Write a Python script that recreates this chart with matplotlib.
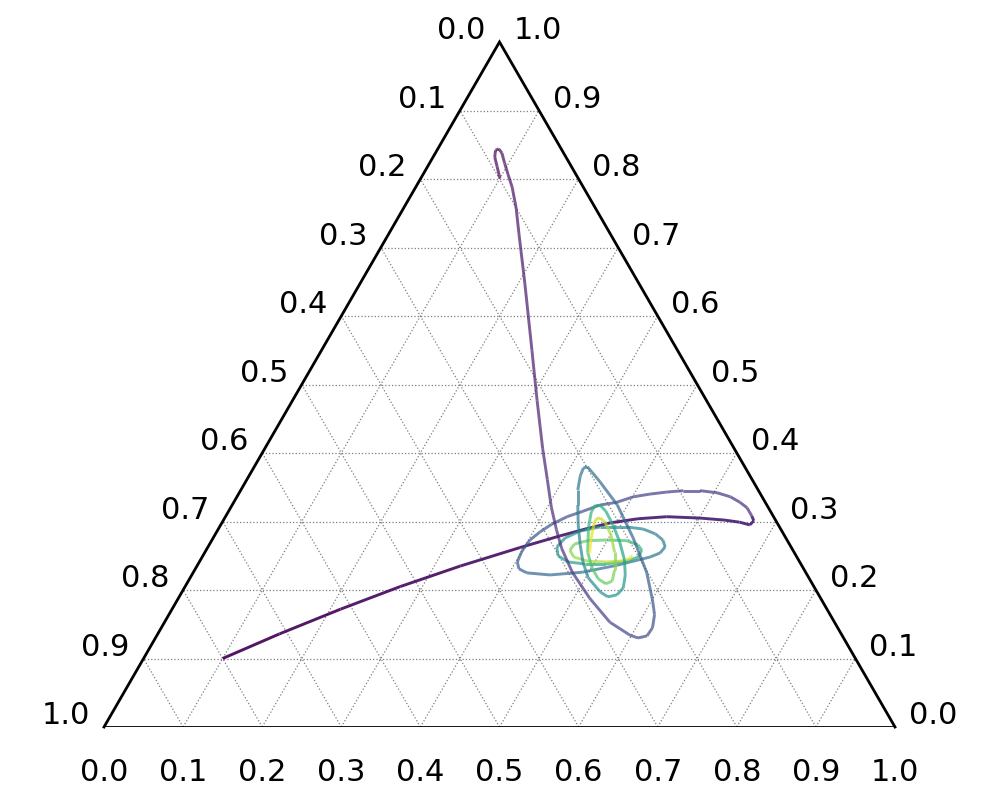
import numpy as np
import matplotlib
matplotlib.use("Agg")
import matplotlib.pyplot as plt
from matplotlib.collections import LineCollection

SQ = np.sqrt(3) / 2

# tick values / labels (same for all three axes)
tick_values = [0.0, 0.1, 0.2, 0.3, 0.4, 0.5, 0.6, 0.7, 0.8, 0.9, 1.0]
tick_labels = ["0.0", "0.1", "0.2", "0.3", "0.4", "0.5", "0.6", "0.7", "0.8", "0.9", "1.0"]

# Trajectory A (starts near bottom-left corner): ternary coords (a = bottom axis, b = right axis)
a_A = [0.100, 0.154, 0.213, 0.272, 0.333, 0.395, 0.437, 0.464, 0.491, 0.523, 0.558, 0.601,
       0.634, 0.654, 0.669, 0.671, 0.665,
       0.653, 0.640, 0.624, 0.604, 0.581, 0.560, 0.540, 0.520, 0.501, 0.484, 0.465, 0.448,
       0.432, 0.418, 0.409, 0.402, 0.400, 0.402, 0.409, 0.422, 0.453, 0.492, 0.530, 0.566,
       0.576, 0.578, 0.570, 0.556, 0.537, 0.515, 0.481, 0.459, 0.445, 0.441, 0.449, 0.466,
       0.489, 0.514, 0.540, 0.551, 0.551, 0.542, 0.525, 0.499, 0.475, 0.461, 0.460, 0.470,
       0.491, 0.513, 0.531, 0.541, 0.543]
b_A = [0.100, 0.136, 0.172, 0.205, 0.235, 0.262, 0.279, 0.289, 0.298, 0.304, 0.307, 0.305,
       0.302, 0.299, 0.295, 0.301, 0.308,
       0.320, 0.328, 0.336, 0.342, 0.345, 0.345, 0.343, 0.340, 0.336, 0.328, 0.324, 0.315,
       0.307, 0.296, 0.285, 0.273, 0.257, 0.241, 0.231, 0.225, 0.222, 0.226, 0.236, 0.248,
       0.254, 0.263, 0.273, 0.282, 0.289, 0.292, 0.292, 0.286, 0.276, 0.263, 0.250, 0.241,
       0.238, 0.238, 0.242, 0.248, 0.258, 0.266, 0.272, 0.273, 0.272, 0.267, 0.258, 0.248,
       0.242, 0.241, 0.242, 0.245, 0.250]
t_A = [0.000, 0.010, 0.020, 0.030, 0.040, 0.050, 0.060, 0.065, 0.070, 0.075, 0.080, 0.085,
       0.090, 0.095, 0.100, 0.105, 0.110,
       0.12, 0.13, 0.14, 0.15, 0.16, 0.17, 0.18, 0.19, 0.20, 0.21, 0.22, 0.23,
       0.24, 0.25, 0.26, 0.27, 0.28, 0.29, 0.30, 0.31, 0.32, 0.34, 0.36, 0.38,
       0.39, 0.40, 0.41, 0.42, 0.43, 0.45, 0.47, 0.49, 0.50, 0.51, 0.53, 0.55,
       0.57, 0.59, 0.61, 0.63, 0.65, 0.67, 0.69, 0.72, 0.75, 0.78, 0.80, 0.83,
       0.86, 0.89, 0.92, 0.95, 1.00]

# Trajectory B (starts near the top corner)
a_B = [0.100, 0.088, 0.078, 0.074, 0.077, 0.084, 0.095, 0.108, 0.122, 0.142, 0.164, 0.208,
       0.266, 0.309, 0.351, 0.380, 0.405, 0.428, 0.448, 0.479, 0.520, 0.563, 0.598, 0.610,
       0.620, 0.621, 0.614, 0.601, 0.573, 0.531, 0.487, 0.448, 0.431, 0.421, 0.417, 0.419,
       0.426, 0.437, 0.452, 0.469, 0.485, 0.503, 0.529, 0.542, 0.552, 0.555, 0.548, 0.536,
       0.517, 0.496, 0.477, 0.465, 0.459, 0.459, 0.467, 0.484, 0.501, 0.517, 0.530, 0.536,
       0.531, 0.518, 0.501, 0.485, 0.475, 0.470, 0.473, 0.479, 0.487]
b_B = [0.801, 0.818, 0.832, 0.842, 0.844, 0.838, 0.823, 0.806, 0.788, 0.758, 0.721, 0.648,
       0.550, 0.477, 0.407, 0.361, 0.321, 0.288, 0.261, 0.226, 0.188, 0.153, 0.134, 0.130,
       0.133, 0.145, 0.164, 0.185, 0.226, 0.276, 0.324, 0.358, 0.372, 0.380, 0.378, 0.366,
       0.346, 0.324, 0.295, 0.266, 0.241, 0.218, 0.197, 0.190, 0.193, 0.203, 0.222, 0.244,
       0.270, 0.295, 0.315, 0.324, 0.324, 0.314, 0.291, 0.255, 0.232, 0.216, 0.209, 0.213,
       0.229, 0.255, 0.280, 0.298, 0.305, 0.304, 0.291, 0.273, 0.254]
t_B = [0.000, 0.005, 0.010, 0.015, 0.020, 0.025, 0.030, 0.035, 0.040, 0.045, 0.050, 0.060,
       0.07, 0.08, 0.09, 0.10, 0.11, 0.12, 0.13, 0.15, 0.17, 0.19, 0.21, 0.22,
       0.23, 0.24, 0.25, 0.26, 0.28, 0.30, 0.32, 0.34, 0.35, 0.36, 0.37, 0.38,
       0.39, 0.40, 0.42, 0.44, 0.46, 0.48, 0.50, 0.51, 0.52, 0.53, 0.54, 0.56,
       0.58, 0.60, 0.62, 0.63, 0.64, 0.65, 0.67, 0.70, 0.72, 0.74, 0.76, 0.78,
       0.80, 0.83, 0.86, 0.89, 0.91, 0.93, 0.95, 0.97, 1.00]


def to_xy(a, b):
    a = np.asarray(a, dtype=float)
    b = np.asarray(b, dtype=float)
    return a + b / 2.0, b * SQ


fig = plt.figure(figsize=(10, 8), dpi=100)
ax = fig.add_axes([0.104, 0.09125, 0.791, 0.85625])
ax.set_xlim(0, 1)
ax.set_ylim(0, SQ)
ax.set_aspect("equal")
ax.axis("off")

# gridlines
grid_kw = dict(color="#7f7f7f", lw=0.9, ls=":", zorder=1)
for v in tick_values[1:-1]:
    x, y = to_xy([0, 1 - v], [v, v])
    ax.plot(x, y, **grid_kw)
    x, y = to_xy([v, v], [0, 1 - v])
    ax.plot(x, y, **grid_kw)
    x, y = to_xy([1 - v, 0], [0, 1 - v])
    ax.plot(x, y, **grid_kw)

# boundary
x, y = to_xy([0, 1], [0, 0])
ax.plot(x, y, color="black", lw=2, zorder=3, clip_on=True)
x, y = to_xy([1, 0, 0], [0, 1, 0])
ax.plot(x, y, color="black", lw=2, zorder=3, clip_on=False, solid_joinstyle="miter")

# colored trajectories
cmap = plt.get_cmap("viridis")


def colored_traj(a, b, t, alpha_first, alpha_rest, t_first):
    x, y = to_xy(a, b)
    pts = np.column_stack([x, y])
    segs = np.stack([pts[:-1], pts[1:]], axis=1)
    t = np.asarray(t)
    tm = (t[:-1] + t[1:]) / 2
    cols = cmap(tm)
    cols[:, 3] = np.where(tm < t_first, alpha_first, alpha_rest)
    lc = LineCollection(segs, colors=cols, linewidths=2.1, capstyle="butt",
                        joinstyle="round", zorder=4)
    ax.add_collection(lc)


colored_traj(a_A, b_A, t_A, 0.92, 0.7, 0.112)
colored_traj(a_B, b_B, t_B, 0.7, 0.7, 0.0)

# tick labels
fs = 22
dx, dy = 0.048, 0.014
for v, lab in zip(tick_values, tick_labels):
    # bottom axis
    ax.text(v, -0.057, lab, ha="center", va="center", fontsize=fs)
    # left axis (value v at b = 1 - v)
    x, y = to_xy(0, 1 - v)
    ax.text(float(x) - dx, float(y) + dy, lab, ha="center", va="center", fontsize=fs)
    # right axis (value v at b = v)
    x, y = to_xy(1 - v, v)
    ax.text(float(x) + dx, float(y) + dy, lab, ha="center", va="center", fontsize=fs)

fig.savefig("out.png", dpi=100)
